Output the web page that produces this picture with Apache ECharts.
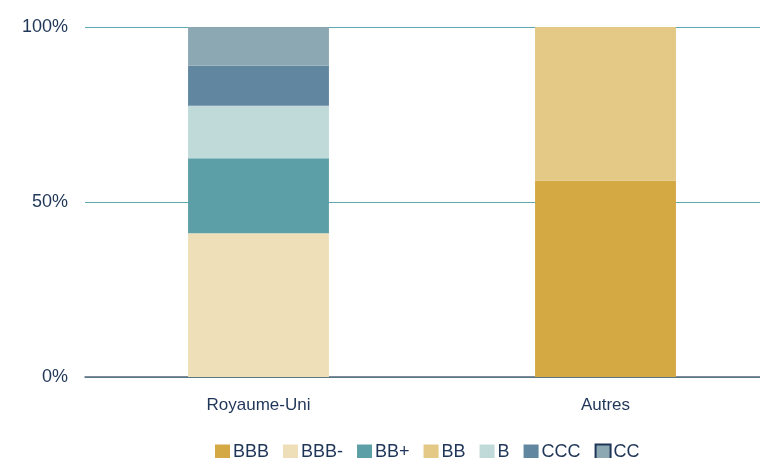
<!DOCTYPE html>
<html>
<head>
<meta charset="utf-8">
<style>
  html, body { margin: 0; padding: 0; background: #fff; }
  #chart { width: 760px; height: 458px; }
</style>
<script src="https://cdn.jsdelivr.net/npm/echarts@6/dist/echarts.min.js"></script>
</head>
<body>
<div id="chart"></div>
<script>
// ====== Data ======
const categories = ['Royaume-Uni', 'Autres'];
const ratings = ['BBB', 'BBB-', 'BB+', 'BB', 'B', 'CCC', 'CC'];
const colors = ['#D4A843', '#EEDFB8', '#5C9FA6', '#E3C886', '#BFDAD9', '#6186A0', '#8CA8B3'];

const bbb      = [0, 56.1];
const bbbMinus = [41.1, 0];
const bbPlus   = [21.4, 0];
const bb       = [0, 43.9];
const b        = [15.0, 0];
const ccc      = [11.4, 0];
const cc       = [11.1, 0];

const values = [bbb, bbbMinus, bbPlus, bb, b, ccc, cc];

const textColor = '#1F3658';
const font = 'Liberation Sans';

const chart = echarts.init(document.getElementById('chart'));

const series = ratings.map((name, i) => ({
  name: name,
  type: 'bar',
  stack: 'total',
  barWidth: '40.6%',
  data: values[i],
  itemStyle: { color: colors[i] },
  emphasis: { disabled: true }
}));

// CC legend swatch has a dark outline in the original
const legendData = ratings.map((name, i) => {
  if (name === 'CC') {
    return { name: name, itemStyle: { color: colors[i], borderColor: '#1F3658', borderWidth: 2 } };
  }
  return { name: name };
});

chart.setOption({
  animation: false,
  // plot area runs past the right edge of the canvas, like the original
  grid: { left: 85, width: 694, top: 27, height: 350, containLabel: false, outerBoundsMode: 'none' },
  legend: {
    data: legendData,
    top: 443,
    left: 215,
    padding: 0,
    icon: 'rect',
    itemWidth: 15,
    itemHeight: 15,
    itemGap: 14,
    textStyle: { color: textColor, fontSize: 18, fontFamily: font, padding: [0, 0, 0, -2] }
  },
  xAxis: {
    type: 'category',
    data: categories,
    axisLine: { lineStyle: { color: '#56677A', width: 1.5 } },
    axisTick: { show: false },
    axisLabel: { color: textColor, fontSize: 17, fontFamily: font, margin: 20 }
  },
  yAxis: {
    type: 'value',
    min: 0,
    max: 100,
    interval: 50,
    axisLabel: { formatter: '{value}%', color: textColor, fontSize: 18, fontFamily: font, margin: 17 },
    splitLine: { lineStyle: { color: '#5FA8B2', width: 1 } },
    axisLine: { show: false },
    axisTick: { show: false }
  },
  series: series
});
</script>
</body>
</html>
